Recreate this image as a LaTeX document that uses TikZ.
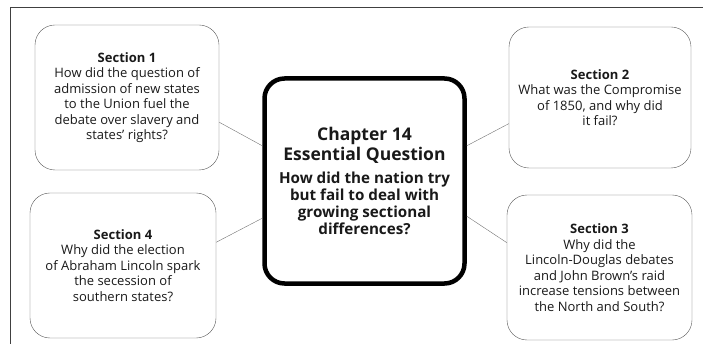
\documentclass[tikz,border=0pt]{standalone}
\usepackage{fontspec}
\setmainfont{Open Sans}
\usetikzlibrary{shapes}

\begin{document}
\begin{tikzpicture}[x=1pt,y=-1pt,
		secbox/.style={draw=black!65,thin,rounded corners=20pt,align=center,inner sep=0pt,
			font=\fontsize{13}{15.5}\selectfont,text=black!90},
		chapbox/.style={draw=black,line width=4.5pt,rounded corners=20pt,align=center,inner sep=0pt,
			font=\bfseries\fontsize{15.2}{17}\selectfont,text=black!90},
		link/.style={draw=black!55,thin}]
		\useasboundingbox (0,0) rectangle (703,344);
		\draw[black!75] (10,344) -- (10,7) -- (703,7);
		\node[secbox,minimum width=184pt,minimum height=145pt] (sec1) at (127,97.5)
			{\textbf{Section 1}\\How did the question of\\admission of new states\\to the Union fuel the\\debate over slavery and\\states' rights?};
		\node[secbox,minimum width=182pt,minimum height=141pt] (sec2) at (600,97.5)
			{\textbf{Section 2}\\What was the Compromise\\of 1850, and why did\\it fail?};
		\node[secbox,minimum width=185pt,minimum height=145pt] (sec3) at (599.5,267.5)
			{\textbf{Section 3}\\Why did the\\Lincoln-Douglas debates\\and John Brown's raid\\increase tensions between\\the North and South?};
		\node[secbox,minimum width=186pt,minimum height=145pt] (sec4) at (123,265.5)
			{\textbf{Section 4}\\Why did the election\\of Abraham Lincoln spark\\the secession of\\southern states?};
		\node[chapbox,minimum width=200pt,minimum height=205pt] (chap) at (364.5,181)
			{{\fontsize{17.5}{19}\selectfont Chapter 14}\\[2pt]
			 {\fontsize{17.5}{19}\selectfont Essential Question}\\[6pt]
			 How did the nation try\\but fail to deal with\\growing sectional\\differences?};
		\draw[link] (sec1.-15) -- (chap.161.6);
		\draw[link] (sec2.-164.3) -- (chap.19.35);
		\draw[link] (sec4.14.2) -- (chap.-160.6);
		\draw[link] (sec3.165) -- (chap.-19.35);
		\end{tikzpicture}
\end{document}
